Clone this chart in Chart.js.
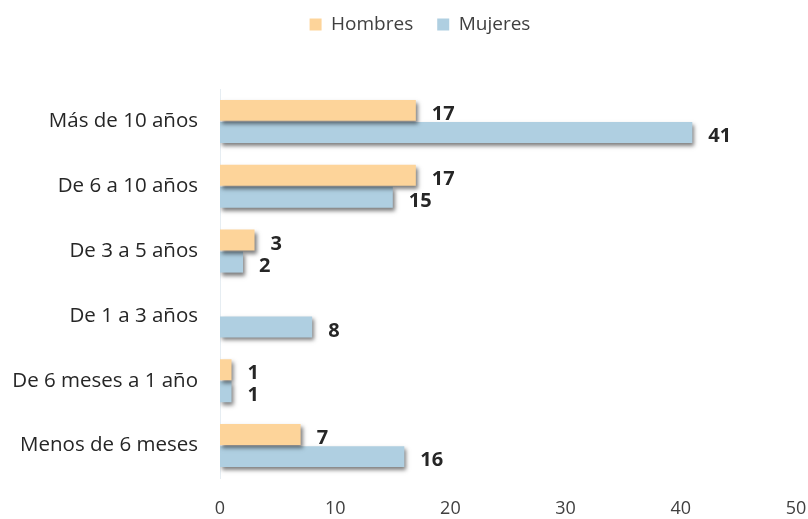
<!DOCTYPE html>
<html>
<head>
<meta charset="utf-8">
<script src="https://cdn.jsdelivr.net/npm/chart.js@4.4.0/dist/chart.umd.min.js"></script>
<style>
html,body{margin:0;padding:0;background:#fff;}
#wrap{width:808px;height:519px;position:relative;}
</style>
</head>
<body>
<div id="wrap"><canvas id="c" width="808" height="519"></canvas></div>
<script>
const categories = ["Más de 10 años", "De 6 a 10 años", "De 3 a 5 años", "De 1 a 3 años", "De 6 meses a 1 año", "Menos de 6 meses"];
const hombres = [17, 17, 3, 0, 1, 7];
const mujeres = [41, 15, 2, 8, 1, 16];
const xTicks = [0, 10, 20, 30, 40, 50];

const FONT = "'Open Sans', sans-serif";

const shadowPlugin = {
  id: 'barShadow',
  beforeDatasetsDraw(chart) {
    const ctx = chart.ctx;
    ctx.save();
    ctx.shadowColor = 'rgba(0,0,0,0.5)';
    ctx.shadowOffsetX = 2;
    ctx.shadowOffsetY = 3;
    ctx.shadowBlur = 4;
  },
  afterDatasetsDraw(chart) {
    chart.ctx.restore();
  }
};

const labelPlugin = {
  id: 'valueLabels',
  afterDraw(chart) {
    const ctx = chart.ctx;
    ctx.save();
    ctx.font = "bold 20px " + FONT;
    ctx.fillStyle = '#262626';
    ctx.textAlign = 'left';
    ctx.textBaseline = 'middle';
    chart.data.datasets.forEach((ds, di) => {
      const meta = chart.getDatasetMeta(di);
      meta.data.forEach((bar, i) => {
        const v = ds.data[i];
        if (!v) return;
        ctx.fillText(String(v), bar.x + 16, bar.y + 4);
      });
    });
    ctx.restore();
  }
};

const legendSpace = {
  id: 'legendSpace',
  beforeInit(chart) {
    const lg = chart.legend;
    if (!lg) return;
    const f = lg.fit;
    lg.fit = function () {
      f.call(this);
      this.height += 36;
    };
    const d = lg.draw;
    lg.draw = function () {
      const ctx = this.ctx;
      ctx.save();
      ctx.translate(16, -9);
      d.call(this);
      ctx.restore();
    };
  }
};

new Chart(document.getElementById('c'), {
  type: 'bar',
  data: {
    labels: categories,
    datasets: [
      { label: 'Hombres', data: hombres, backgroundColor: '#fdd49a', borderWidth: 0 },
      { label: 'Mujeres', data: mujeres, backgroundColor: '#afcfe1', borderWidth: 0 }
    ]
  },
  options: {
    indexAxis: 'y',
    responsive: false,
    animation: false,
    devicePixelRatio: 1,
    categoryPercentage: 0.68,
    barPercentage: 0.95,
    layout: { padding: { top: 0, right: 0, left: 0, bottom: 0 } },
    plugins: {
      tooltip: { enabled: false },
      legend: {
        position: 'top',
        labels: {
          boxWidth: 12, boxHeight: 12,
          color: '#404040',
          font: { family: FONT, size: 19 },
          padding: 24
        }
      }
    },
    scales: {
      x: {
        min: 0, max: 50,
        afterBuildTicks(s) { s.ticks = xTicks.map(v => ({ value: v })); },
        grid: { display: false, drawTicks: false },
        border: { display: false },
        ticks: { color: '#404040', font: { family: FONT, size: 18 }, padding: 20, maxRotation: 0 },
        afterFit(s) { s.height = 41; s.paddingRight = 12; s.paddingLeft = 0; }
      },
      y: {
        grid: { display: false, drawTicks: false },
        border: { display: true, color: '#e6edf2', width: 1 },
        ticks: { color: '#262626', font: { family: FONT, size: 20.5 }, padding: 22 },
        afterFit(s) { s.width = 220; }
      }
    }
  },
  plugins: [shadowPlugin, labelPlugin, legendSpace]
});
</script>
</body>
</html>
